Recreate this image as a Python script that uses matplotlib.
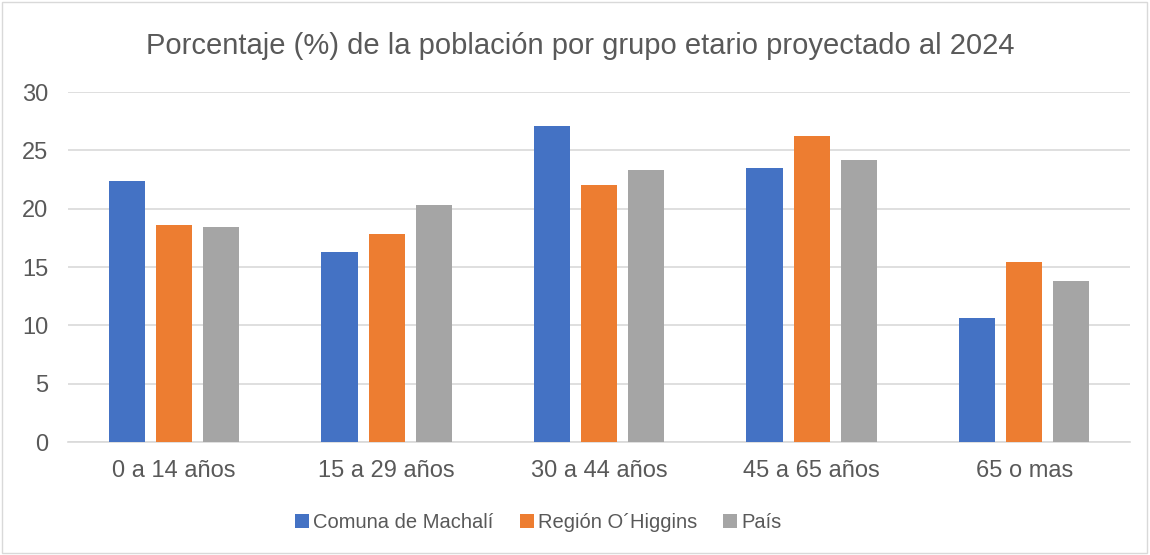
import matplotlib
matplotlib.use("Agg")
import numpy as np
import matplotlib.pyplot as plt
from matplotlib.patches import Rectangle

categories = ["0 a 14 años", "15 a 29 años", "30 a 44 años", "45 a 65 años", "65 o mas"]
machali = [22.4, 16.3, 27.1, 23.5, 10.6]
ohiggins = [18.6, 17.8, 22.0, 26.2, 15.4]
pais = [18.4, 20.3, 23.3, 24.2, 13.8]

series = [
    ("Comuna de Machalí", machali, "#4472c4"),
    ("Región O´Higgins", ohiggins, "#ed7d31"),
    ("País", pais, "#a5a5a5"),
]

plt.rcParams['font.family'] = ['Liberation Sans', 'DejaVu Sans']
text_color = "#595959"

fig = plt.figure(figsize=(11.5, 5.55), dpi=100)
ax = fig.add_axes([0.059, 0.2036, 0.924, 0.6306])

x = np.arange(len(categories))
width = 0.17
step = 0.222
for i, (name, vals, color) in enumerate(series):
    ax.bar(x + (i - 1) * step, vals, width, color=color, label=name, zorder=3)

ax.set_xlim(-0.5, len(categories) - 0.5)
ax.set_ylim(0, 30)
ax.set_yticks(range(0, 31, 5))
ax.set_xticks(x)
ax.set_xticklabels(categories)
ax.yaxis.grid(True, color="#d9d9d9", linewidth=1.2, zorder=0)
ax.tick_params(axis="both", length=0, labelsize=17, colors=text_color)
ax.tick_params(axis="y", pad=14)
ax.tick_params(axis="x", pad=13)
for s in ["top", "right", "left"]:
    ax.spines[s].set_visible(False)
ax.spines["bottom"].set_color("#d9d9d9")
ax.spines["bottom"].set_linewidth(1.2)

fig.text(0.505, 0.918, "Porcentaje (%) de la población por grupo etario proyectado al 2024",
         ha="center", va="center", fontsize=21, color=text_color)

leg = fig.legend(loc="center", bbox_to_anchor=(0.468, 0.058), ncol=3, frameon=False,
                 fontsize=14.5, handlelength=0.7, handleheight=0.7, handletextpad=0.2,
                 columnspacing=1.3)
for t in leg.get_texts():
    t.set_color(text_color)

fig.patches.append(Rectangle((0.002, 0.003), 0.995, 0.993, transform=fig.transFigure,
                             fill=False, edgecolor="#d9d9d9", linewidth=1))

fig.savefig("out.png", dpi=100)
